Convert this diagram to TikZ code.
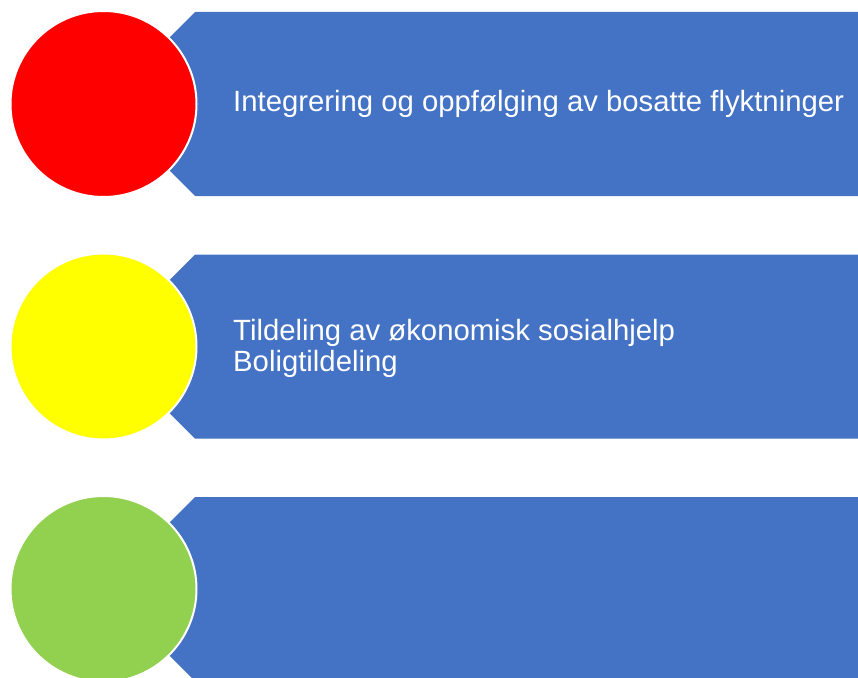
\documentclass[tikz,border=0pt]{standalone}
\usepackage{fontspec}
\setmainfont{Liberation Sans}
\usetikzlibrary{positioning}

\definecolor{bandblue}{HTML}{4472C4}
\definecolor{dotred}{HTML}{FF0000}
\definecolor{dotyellow}{HTML}{FFFF00}
\definecolor{dotgreen}{HTML}{92D050}

\tikzset{
	band/.style={fill=bandblue, draw=none},
	dot/.style={draw=white, line width=2pt, circle, minimum size=186pt, inner sep=0pt},
	bandtext/.style={text=white, inner sep=0pt, font=\fontsize{29.3}{32}\selectfont}
}

\begin{document}
\begin{tikzpicture}[x=1pt, y=-1pt]
		
		%Frame
		\useasboundingbox (0,0) rectangle (858,677);
		\clip (0,0) rectangle (858,677);
		
		%Bands
		\foreach \y in {12, 254.5, 497}{
			\fill[band] (195,\y) -- (858,\y) -- (858,\y+184) -- (195,\y+184)
			-- (165,\y+154) -- (165,\y+30) -- cycle;
		}
		
		%Red circle
		\node (redDot) at(103.5,104) [dot, fill=dotred]{};
		
		%Yellow circle
		\node (yellowDot) at(103.5,346.5) [dot, fill=dotyellow]{};
		
		%Green circle
		\node (greenDot) at(103.5,589) [dot, fill=dotgreen]{};
		
		%Texts
		\node (firstText) at(233,111) [bandtext, anchor=base west]{Integrering og oppfølging av bosatte flyktninger};
		\node (secondText) at(233,340) [bandtext, anchor=base west]{Tildeling av økonomisk sosialhjelp};
		\node (thirdText) at(233,371.5) [bandtext, anchor=base west]{Boligtildeling};
		
\end{tikzpicture}
\end{document}
